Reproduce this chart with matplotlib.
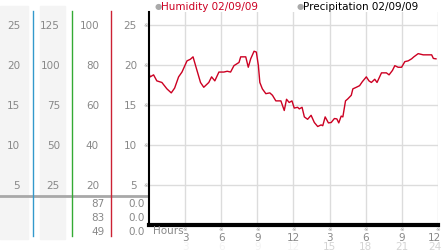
import matplotlib.pyplot as plt
from matplotlib.transforms import blended_transform_factory, offset_copy
from matplotlib.patches import Rectangle
from matplotlib.lines import Line2D

# humidity trace (hour of day, value)
hours = [0.0, 0.1, 0.38, 0.65, 1.07, 1.49, 1.85, 2.13, 2.46, 2.74, 3.16, 3.44, 3.66,
         3.91, 4.28, 4.55, 4.97, 5.20, 5.47, 5.81, 6.22, 6.50, 6.78, 7.06, 7.48, 7.62,
         8.04, 8.25, 8.45, 8.73, 8.92, 9.09, 9.21, 9.42, 9.71, 10.04, 10.26, 10.54,
         10.96, 11.24, 11.43, 11.65, 11.88, 12.07, 12.35, 12.49, 12.72, 12.91, 13.18,
         13.47, 13.74, 14.02, 14.30, 14.44, 14.64, 14.91, 15.14, 15.41, 15.61, 15.77,
         15.97, 16.11, 16.33, 16.52, 16.81, 16.94, 17.23, 17.50, 17.73, 18.06, 18.28,
         18.48, 18.76, 18.95, 19.32, 19.73, 19.95, 20.23, 20.43, 20.70, 20.99, 21.26,
         21.54, 21.82, 22.01, 22.37, 22.79, 23.21, 23.49, 23.63, 23.85]
humidity = [18.9, 18.5, 18.75, 18.0, 17.8, 17.0, 16.5, 17.1, 18.5, 19.1, 20.5, 20.7, 21.0,
            19.7, 17.8, 17.2, 17.8, 18.5, 18.0, 19.1, 19.1, 19.2, 19.1, 19.9, 20.3, 21.0,
            21.0, 19.7, 20.75, 21.7, 21.6, 19.9, 17.8, 17.0, 16.4, 16.5, 16.2, 15.5,
            15.5, 14.3, 15.7, 15.3, 15.5, 14.6, 14.7, 14.5, 14.7, 13.5, 13.2,
            13.7, 12.8, 12.3, 12.5, 12.4, 13.5, 12.75, 12.8, 13.3, 13.25, 12.75,
            13.6, 13.5, 15.5, 15.75, 16.2, 17.0, 17.2, 17.4, 17.9, 18.5, 18.0,
            17.8, 18.2, 17.8, 19.0, 19.0, 18.75, 19.3, 19.9, 19.7, 19.7, 20.4,
            20.5, 20.75, 21.0, 21.4, 21.25, 21.25, 21.25, 20.8, 20.75]

y_ticks = [5, 10, 15, 20, 25]
col_a = ["5", "10", "15", "20", "25"]
col_b = ["25", "50", "75", "100", "125"]
col_c = ["20", "40", "60", "80", "100"]
col_d = ["5", "10", "15", "20", "25"]
stat_c = ["87", "83", "49"]
stat_d = ["0.0", "0.0", "0.0"]
x_ticks = [3, 6, 9, 12, 15, 18, 21, 24]
x_labels = ["3", "6", "9", "12", "3", "6", "9", "12"]
x_sub = ["3", "6", "9", "12", "15", "18", "21", "24"]
x_sub_colors = ["#f3f3f3"] * 4 + ["#d4d4d4"] * 4

W, H = 442, 253
def fx(x):
    return x / W
def fy(y):
    return 1 - y / H

fig = plt.figure(figsize=(W / 100, H / 100), dpi=100)
fig.patch.set_facecolor("white")

# left panel decorations (drawn beneath the axes and its texts)
for x0, x1 in [(0, 28), (40, 65)]:
    fig.patches.append(Rectangle((fx(x0), fy(240)), fx(x1 - x0), (240 - 7) / H,
                                 transform=fig.transFigure, color="#f4f4f4", zorder=-3))
fig.lines.append(Line2D([0, fx(150)], [fy(197), fy(197)], transform=fig.transFigure,
                        color="#a8a8a8", lw=2, zorder=-2))
for xl, c in [(33, "#3399cc"), (72, "#33aa33"), (111, "#cc2233")]:
    fig.lines.append(Line2D([fx(xl), fx(xl)], [fy(12), fy(237)], transform=fig.transFigure,
                            color=c, lw=1, zorder=-1))

ax = fig.add_axes([fx(149), fy(226), (437.8 - 149) / W, (226 - 13) / H])
ax.plot(hours, humidity, color="#cc0022", lw=1)
ax.set_xlim(0, 24)
ax.set_ylim(0, 26.6)
ax.set_xticks(x_ticks)
ax.set_yticks(y_ticks)
ax.grid(True, color="#dcdcdc", lw=1)
ax.tick_params(length=0, labelleft=False, labelbottom=False)
for s in ["top", "right"]:
    ax.spines[s].set_visible(False)
ax.spines["left"].set_linewidth(1.5)
ax.spines["bottom"].set_linewidth(3)
ax.set_axisbelow(True)

gray = "#888888"
fs = 7.5
ty = blended_transform_factory(fig.transFigure, ax.transData)
for v, a, b, c, d in zip(y_ticks, col_a, col_b, col_c, col_d):
    ax.text(fx(20), v, a, transform=ty, ha="right", va="center", fontsize=fs, color=gray)
    ax.text(fx(60), v, b, transform=ty, ha="right", va="center", fontsize=fs, color=gray)
    ax.text(fx(99), v, c, transform=ty, ha="right", va="center", fontsize=fs, color=gray)
    ax.text(fx(137), v, d, transform=ty, ha="right", va="center", fontsize=fs, color=gray)
    ax.text(fx(145.5), v, "※", transform=ty, ha="center", va="center", fontsize=4, color="#999999")

for yy, c, d in zip([204, 218, 232], stat_c, stat_d):
    fig.text(fx(105), fy(yy), c, ha="right", va="center", fontsize=fs, color=gray)
    fig.text(fx(145), fy(yy), d, ha="right", va="center", fontsize=fs, color=gray)

tx = blended_transform_factory(ax.transData, fig.transFigure)
tx_last = offset_copy(tx, fig=fig, x=3.5, y=0, units="dots")
fig.text(fx(153), fy(231), "Hours", ha="left", va="center", fontsize=fs, color=gray)
for i, (h, lab, sub, sc) in enumerate(zip(x_ticks, x_labels, x_sub, x_sub_colors)):
    last = i == len(x_ticks) - 1
    ax.text(h, fy(230), "※", transform=tx, ha="center", va="center", fontsize=4, color="#999999")
    ax.text(h, fy(238.5), lab, transform=tx_last if last else tx,
            ha="right" if last else "center", va="center", fontsize=fs, color=gray)
    ax.text(h, fy(247), sub, transform=tx_last if last else tx,
            ha="right" if last else "center", va="center", fontsize=fs, color=sc)

# legend
fig.text(fx(158), fy(7), "●", ha="center", va="center", fontsize=6, color="#aaaaaa")
fig.text(fx(161), fy(7), "Humidity 02/09/09", ha="left", va="center", fontsize=fs, color="#cc0022")
fig.text(fx(300), fy(7), "●", ha="center", va="center", fontsize=6, color="#aaaaaa")
fig.text(fx(303), fy(7), "Precipitation 02/09/09", ha="left", va="center", fontsize=fs, color="black")

fig.savefig("out.png", dpi=100)
